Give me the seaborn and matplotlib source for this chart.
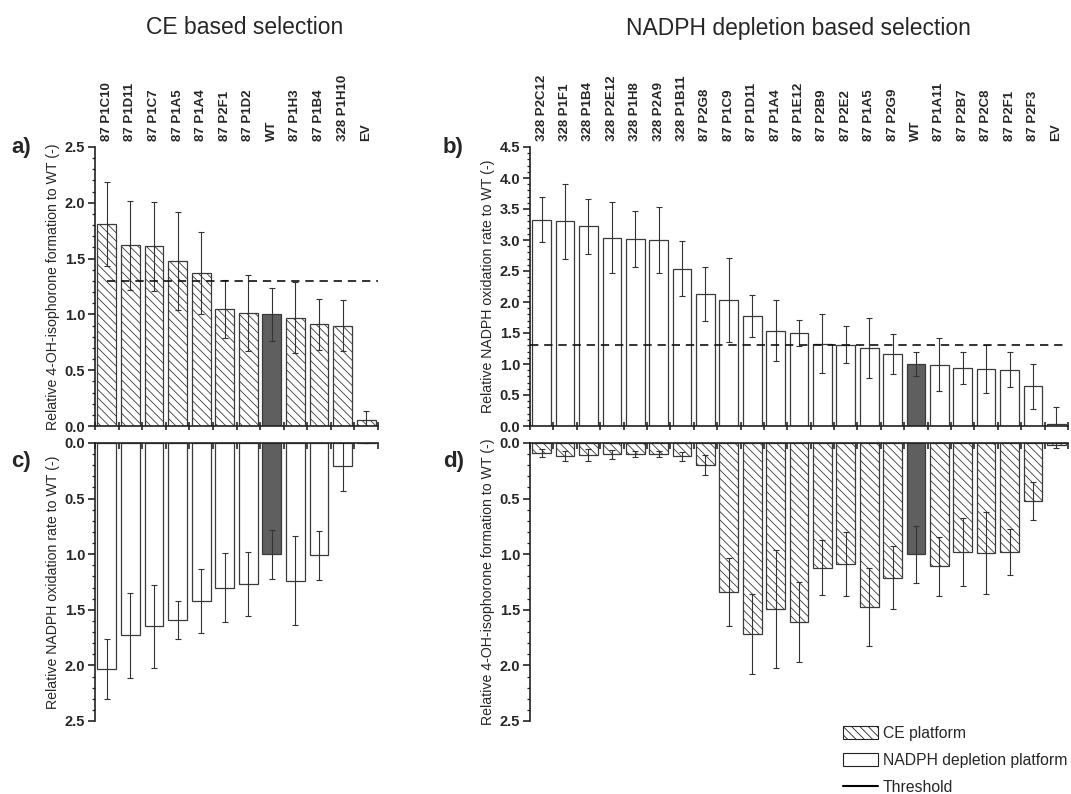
import numpy as np
import pandas as pd
import matplotlib
matplotlib.use("Agg")
import matplotlib.pyplot as plt
import seaborn as sns
from matplotlib.patches import Patch
from matplotlib.lines import Line2D
from matplotlib.ticker import MultipleLocator, FormatStrFormatter

# ---- CE based selection (panels a and c) ----
ce_variants = ["87 P1C10", "87 P1D11", "87 P1C7", "87 P1A5", "87 P1A4", "87 P2F1",
               "87 P1D2", "WT", "87 P1H3", "87 P1B4", "328 P1H10", "EV"]
ce_oh = [1.81, 1.62, 1.61, 1.48, 1.37, 1.05, 1.01, 1.00, 0.97, 0.91, 0.90, 0.05]
ce_oh_err = [0.38, 0.40, 0.40, 0.44, 0.37, 0.26, 0.34, 0.24, 0.32, 0.23, 0.23, 0.08]
ce_nadph = [2.03, 1.73, 1.65, 1.59, 1.42, 1.30, 1.27, 1.00, 1.24, 1.01, 0.21, 0.0]
ce_nadph_err = [0.27, 0.38, 0.37, 0.17, 0.29, 0.31, 0.29, 0.22, 0.40, 0.22, 0.22, 0.0]

# ---- NADPH depletion based selection (panels b and d) ----
np_variants = ["328 P2C12", "328 P1F1", "328 P1B4", "328 P2E12", "328 P1H8", "328 P2A9",
               "328 P1B11", "87 P2G8", "87 P1C9", "87 P1D11", "87 P1A4", "87 P1E12",
               "87 P2B9", "87 P2E2", "87 P1A5", "87 P2G9", "WT", "87 P1A11", "87 P2B7",
               "87 P2C8", "87 P2F1", "87 P2F3", "EV"]
np_nadph = [3.33, 3.30, 3.22, 3.04, 3.01, 3.00, 2.54, 2.13, 2.03, 1.77, 1.54, 1.50,
            1.33, 1.31, 1.26, 1.16, 1.00, 0.99, 0.94, 0.92, 0.91, 0.64, 0.04]
np_nadph_err = [0.36, 0.60, 0.44, 0.57, 0.45, 0.54, 0.44, 0.44, 0.68, 0.34, 0.49, 0.21,
                0.47, 0.30, 0.48, 0.32, 0.20, 0.43, 0.26, 0.39, 0.28, 0.36, 0.27]
np_oh = [0.09, 0.12, 0.105, 0.10, 0.10, 0.10, 0.12, 0.195, 1.34, 1.72, 1.49, 1.61,
         1.12, 1.09, 1.475, 1.21, 1.00, 1.11, 0.98, 0.99, 0.98, 0.52, 0.02]
np_oh_err = [0.04, 0.045, 0.055, 0.04, 0.03, 0.03, 0.04, 0.09, 0.31, 0.36, 0.53, 0.36,
             0.245, 0.29, 0.35, 0.28, 0.255, 0.265, 0.31, 0.37, 0.21, 0.17, 0.025]

threshold = 1.3

sns.set_style("ticks")
plt.rcParams["font.family"] = ["Liberation Sans", "DejaVu Sans"]
plt.rcParams["hatch.linewidth"] = 0.6
plt.rcParams["hatch.color"] = "#333333"

EDGE = "#3a3a3a"
WT_COLOR = "#5f5f5f"
HATCH = "\\\\\\\\"


def draw_panel(ax, names, vals, errs, hatched, ymax, inverted, ylabel):
    df = pd.DataFrame({"variant": names, "value": vals})
    pal = {n: (WT_COLOR if n == "WT" else "white") for n in names}
    sns.barplot(data=df, x="variant", y="value", hue="variant", palette=pal,
                order=names, hue_order=names, width=0.8, edgecolor=EDGE,
                linewidth=0.9, errorbar=None, legend=False, ax=ax)
    for patch in ax.patches:
        idx = int(round(patch.get_x() + patch.get_width() / 2))
        if hatched and names[idx] != "WT":
            patch.set_hatch(HATCH)
    ax.errorbar(np.arange(len(names)), vals, yerr=errs, fmt="none",
                ecolor="#333333", elinewidth=0.8, capsize=2, capthick=0.8)

    n = len(names)
    ax.set_xlim(-0.5, n - 0.5)
    if inverted:
        ax.set_ylim(ymax, 0)
        ax.spines["bottom"].set_visible(False)
        ax.spines["right"].set_visible(False)
    else:
        ax.set_ylim(0, ymax)
        sns.despine(ax=ax)
    for s in ax.spines.values():
        s.set_linewidth(1.2)
        s.set_color("#222222")

    ax.yaxis.set_major_locator(MultipleLocator(0.5))
    ax.yaxis.set_minor_locator(MultipleLocator(0.1))
    ax.yaxis.set_major_formatter(FormatStrFormatter("%.1f"))
    ax.tick_params(axis="y", which="major", direction="out", length=5, width=1.2,
                   labelsize=10.5, pad=2)
    ax.tick_params(axis="y", which="minor", direction="out", length=2.5, width=0.9)
    for lab in ax.get_yticklabels():
        lab.set_fontweight("bold")

    ax.set_xticks(np.arange(n + 1) - 0.5, minor=True)
    if inverted:
        ax.set_xticks(np.arange(n))
        ax.set_xticklabels([])
        ax.tick_params(axis="x", which="major", length=0, bottom=False, top=False,
                       labelbottom=False)
        ax.tick_params(axis="x", which="minor", top=True, bottom=False,
                       direction="in", length=4, width=1.2)
    else:
        ax.set_xticks(np.arange(n))
        ax.set_xticklabels(names)
        ax.tick_params(axis="x", which="major", length=0, bottom=False, top=True,
                       labelbottom=False, labeltop=True, labelrotation=90,
                       labelsize=9.5, pad=4)
        ax.tick_params(axis="x", which="minor", bottom=True, top=False,
                       direction="inout", length=6, width=1.2)
        for lab in ax.get_xticklabels():
            lab.set_fontweight("bold")
    ax.set_xlabel("")
    ax.set_ylabel(ylabel, fontsize=10.2, labelpad=3)


W, H = 1071, 794
fig = plt.figure(figsize=(W / 100, H / 100), dpi=100)


def box(left, right, top, bottom):
    return [left / W, 1 - bottom / H, (right - left) / W, (bottom - top) / H]


ax_a = fig.add_axes(box(95, 378, 147, 426))
ax_c = fig.add_axes(box(95, 378, 443, 721))
ax_b = fig.add_axes(box(530, 1068, 147, 426))
ax_d = fig.add_axes(box(530, 1068, 443, 721))

lab_oh = "Relative 4-OH-isophorone formation to WT (-)"
lab_np = "Relative NADPH oxidation rate to WT (-)"

draw_panel(ax_a, ce_variants, ce_oh, ce_oh_err, True, 2.5, False, lab_oh)
draw_panel(ax_c, ce_variants, ce_nadph, ce_nadph_err, False, 2.5, True, lab_np)
draw_panel(ax_b, np_variants, np_nadph, np_nadph_err, False, 4.5, False, lab_np)
draw_panel(ax_d, np_variants, np_oh, np_oh_err, True, 2.5, True, lab_oh)

# threshold lines
ax_a.hlines(threshold, 0, len(ce_variants) - 0.5, colors="#111111",
            linestyles=(0, (5, 3.5)), linewidth=1.2, zorder=5)
ax_b.hlines(threshold, -0.5, len(np_variants) - 0.5, colors="#111111",
            linestyles=(0, (5, 3.5)), linewidth=1.2, zorder=5)

# titles and panel letters
fig.text(245 / W, 1 - 28 / H, "CE based selection", ha="center", va="center",
         fontsize=16.5)
fig.text(798 / W, 1 - 28 / H, "NADPH depletion based selection", ha="center",
         va="center", fontsize=16.5)
for txt, x, y in [("a)", 11, 148), ("b)", 443, 148), ("c)", 11, 462), ("d)", 443, 462)]:
    fig.text(x / W, 1 - y / H, txt, ha="left", va="center", fontsize=16,
             fontweight="bold")

handles = [
    Patch(facecolor="white", edgecolor="#222222", hatch=HATCH, linewidth=0.8),
    Patch(facecolor="white", edgecolor="#222222", linewidth=0.8),
    Line2D([0], [0], color="black", linewidth=1.5),
]
fig.legend(handles, ["CE platform", "NADPH depletion platform", "Threshold"],
           loc="upper left", bbox_to_anchor=(843 / W, 1 - 726 / H), frameon=False,
           fontsize=11.3, handlelength=2.2, handleheight=0.85, handletextpad=0.35,
           labelspacing=0.75, borderpad=0, borderaxespad=0)

fig.savefig("out.png", dpi=100)
